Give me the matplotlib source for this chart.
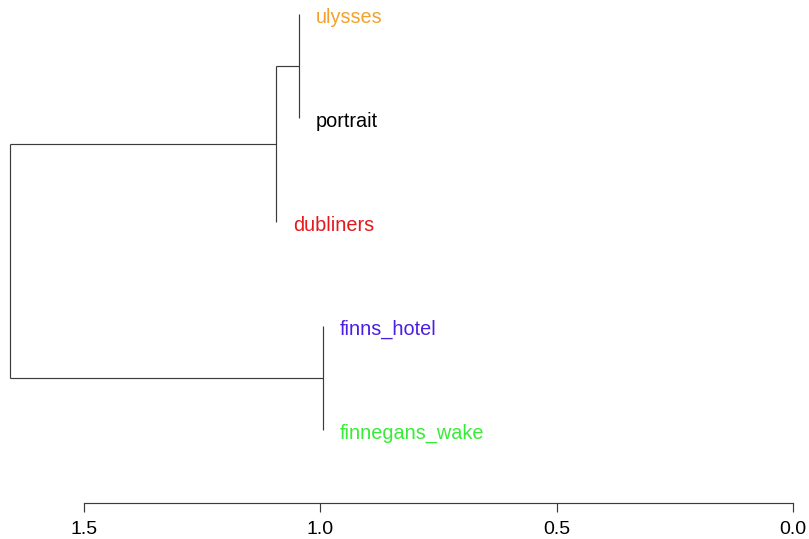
import matplotlib
matplotlib.use("Agg")
import matplotlib.pyplot as plt

# Leaves (top to bottom) and their label colours
leaves = ["ulysses", "portrait", "dubliners", "finns_hotel", "finnegans_wake"]
leaf_colors = ["#F4A12C", "#000000", "#E3191C", "#4B1FE3", "#36EC36"]

# Merges: (left child, right child) using leaf index 0..4, new nodes 5..8
merge_left = [0, 5, 3, 6]
merge_right = [1, 2, 4, 7]
merge_height = [1.045, 1.094, 0.994, 1.656]

tick_values = [1.5, 1.0, 0.5, 0.0]
tick_labels = ["1.5", "1.0", "0.5", "0.0"]

plt.rcParams["font.family"] = ["Liberation Sans", "DejaVu Sans"]

fig = plt.figure(figsize=(8.09, 5.39), dpi=100)
ax = fig.add_axes([0.0, 0.0668, 1.0, 0.9332])

n = len(leaves)
ypos = {i: i + 1 for i in range(n)}
hpos = {}
parent_h = {}
for k, (a, b, h) in enumerate(zip(merge_left, merge_right, merge_height)):
    node = n + k
    ypos[node] = (ypos[a] + ypos[b]) / 2.0
    hpos[node] = h
    parent_h[a] = h
    parent_h[b] = h
for i in range(n):
    hpos[i] = parent_h[i]

line_kw = dict(color="#3a3a3a", lw=0.85, solid_capstyle="butt")
for k, (a, b, h) in enumerate(zip(merge_left, merge_right, merge_height)):
    ax.plot([h, h], [ypos[a], ypos[b]], **line_kw)
    for c in (a, b):
        if hpos[c] != h:
            ax.plot([h, hpos[c]], [ypos[c], ypos[c]], **line_kw)

for i, (lab, col) in enumerate(zip(leaves, leaf_colors)):
    ax.annotate(lab, xy=(hpos[i], ypos[i]), xytext=(12, -2.5),
                textcoords="offset points", ha="left", va="center",
                color=col, fontsize=14.3)

ax.set_xlim(1.678, -0.0338)
ax.set_ylim(5.70, 0.865)

for s in ["top", "left", "right"]:
    ax.spines[s].set_visible(False)
ax.spines["bottom"].set_bounds(0.0, 1.5)
ax.spines["bottom"].set_color("#3a3a3a")
ax.spines["bottom"].set_linewidth(0.85)
ax.set_xticks(tick_values)
ax.set_xticklabels(tick_labels)
ax.tick_params(axis="x", length=6.5, width=0.85, color="#3a3a3a",
               labelsize=14, pad=6.5)
ax.set_yticks([])
ax.patch.set_visible(False)

fig.savefig("out.png", dpi=100)
